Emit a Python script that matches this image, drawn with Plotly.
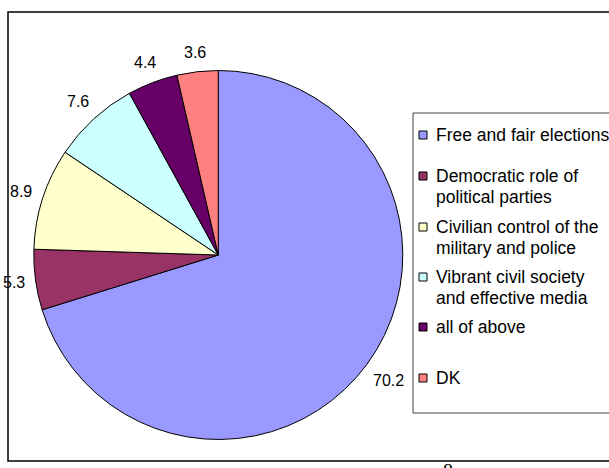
import math
import plotly.graph_objects as go

# ---- data ----
categories = [
    "Free and fair elections",
    "Democratic role of political parties",
    "Civilian control of the military and police",
    "Vibrant civil society and effective media",
    "all of above",
    "DK",
]
values = [70.2, 5.3, 8.9, 7.6, 4.4, 3.6]
legend_lines = [
    ["Free and fair elections"],
    ["Democratic role of", "political parties"],
    ["Civilian control of the", "military and police"],
    ["Vibrant civil society", "and effective media"],
    ["all of above"],
    ["DK"],
]
colors = ["#9999FF", "#993366", "#FFFFCC", "#CCFFFF", "#660066", "#FF8080"]

# ---- layout constants (pixels) ----
W, H = 609, 468
cx, cy, R = 218.3, 255.0, 184.5
legend_first_line_y = [135, 176, 227, 277, 327, 378]
line_gap = 21
FONT = "Liberation Sans, Arial, sans-serif"
LABEL_FS = 16
LABEL_GAP = 9


def px(x):
    return x / W


def py(y):
    return (H - y) / H


fig = go.Figure()
fig.add_trace(go.Pie(
    labels=categories,
    values=values,
    sort=False,
    direction="clockwise",
    rotation=0,
    marker=dict(colors=colors, line=dict(color="black", width=1)),
    textinfo="none",
    hoverinfo="label+value",
    showlegend=False,
    domain=dict(x=[px(cx - R), px(cx + R)], y=[py(cy + R), py(cy - R)]),
))

annotations = []
# data labels placed just outside each slice, at its mid angle (Excel "outside end")
total = sum(values)
cum = 0.0
for v in values:
    mid = (cum + v / 2) / total * 2 * math.pi
    cum += v
    s, c = math.sin(mid), math.cos(mid)
    txt = f"{v:.1f}"
    half_w = (0.556 * (len(txt) - 1) + 0.278) * LABEL_FS / 2
    half_h = 0.56 * LABEL_FS
    extent = abs(s) * half_w + abs(c) * half_h
    d = R + LABEL_GAP + extent
    annotations.append(dict(
        x=px(cx + d * s), y=py(cy - d * c), xref="paper", yref="paper",
        text=txt, showarrow=False, xanchor="center", yanchor="middle",
        font=dict(family=FONT, size=LABEL_FS, color="black")))

shapes = [
    # chart frame
    dict(type="rect", xref="paper", yref="paper",
         x0=px(8), x1=px(W + 10), y0=py(461), y1=py(12),
         line=dict(color="black", width=1.5), layer="above"),
    # legend box
    dict(type="rect", xref="paper", yref="paper",
         x0=px(413), x1=px(W + 10), y0=py(413), y1=py(113),
         line=dict(color="#404040", width=1), layer="above"),
]
for lines, col, y0 in zip(legend_lines, colors, legend_first_line_y):
    shapes.append(dict(type="rect", xref="paper", yref="paper",
                       x0=px(419), x1=px(427), y0=py(y0 + 4), y1=py(y0 - 4),
                       fillcolor=col, line=dict(color="black", width=1)))
    for i, ln in enumerate(lines):
        annotations.append(dict(
            x=px(434), y=py(y0 + i * line_gap), xref="paper", yref="paper",
            text=ln, showarrow=False, xanchor="left", yanchor="middle",
            font=dict(family=FONT, size=17.5, color="black")))

# stray page number partly visible at the bottom
annotations.append(dict(x=px(448), y=py(471), xref="paper", yref="paper",
                        text="8", showarrow=False, xanchor="center", yanchor="middle",
                        font=dict(family="Liberation Serif, serif", size=20, color="black")))

fig.update_layout(
    width=W, height=H,
    margin=dict(l=0, r=0, t=0, b=0),
    paper_bgcolor="white",
    plot_bgcolor="white",
    shapes=shapes,
    annotations=annotations,
    showlegend=False,
)

fig.write_html("out.html")
